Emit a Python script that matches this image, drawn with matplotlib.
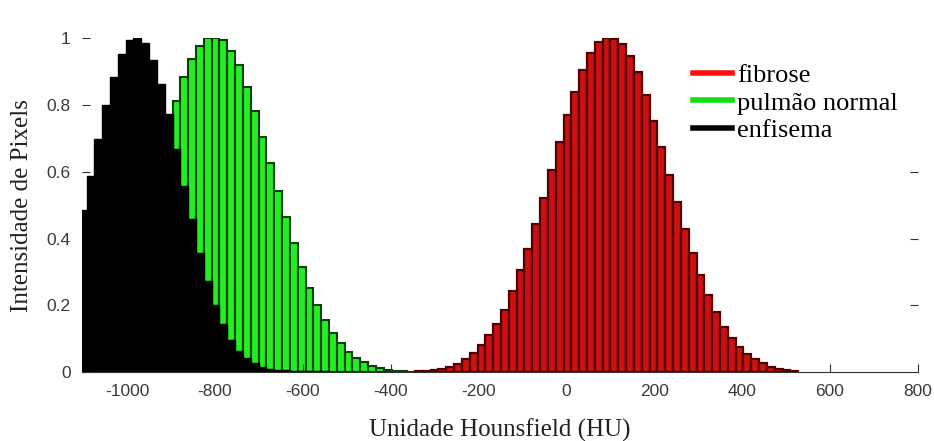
import numpy as np
import matplotlib
matplotlib.use("Agg")
import matplotlib.pyplot as plt
from matplotlib.lines import Line2D

# ── Histogram bins (shared by the three series) ───────────────────────────────
BIN_START = -1109.8   # left edge of bin 0 (HU)
BIN_W     = 17.8      # bin width (HU)

# ── Data (normalised pixel intensity per bin) ────────────────────────────────
black_first_bin = 0    # enfisema
black_heights = [0.485, 0.588, 0.699, 0.800, 0.886, 0.955, 0.995, 1.000, 0.987,
                 0.935, 0.864, 0.774, 0.669, 0.558, 0.458, 0.357, 0.272, 0.202,
                 0.145, 0.096, 0.064, 0.041, 0.026, 0.016, 0.010, 0.007, 0.005,
                 0.004, 0.003, 0.002, 0.002, 0.002, 0.001, 0.001, 0.001, 0.001,
                 0.001, 0.001, 0.001]

green_first_bin = 0    # pulmão normal (left part hidden behind black)
green_heights = [0.03, 0.05, 0.07, 0.10, 0.14, 0.19, 0.26, 0.34, 0.43, 0.52,
                 0.62, 0.72, 0.812, 0.885, 0.940, 0.977, 1.000, 1.000, 0.995,
                 0.963, 0.920, 0.855, 0.784, 0.706, 0.626, 0.543, 0.465, 0.388,
                 0.314, 0.252, 0.200, 0.157, 0.117, 0.086, 0.061, 0.043, 0.029,
                 0.019, 0.011, 0.007, 0.004, 0.002, 0.001]

red_first_bin = 43     # fibrose
red_heights = [0.002, 0.003, 0.005, 0.008, 0.014, 0.024, 0.038, 0.058, 0.081,
               0.111, 0.145, 0.187, 0.242, 0.305, 0.370, 0.443, 0.523, 0.606,
               0.690, 0.770, 0.840, 0.905, 0.958, 0.990, 1.000, 0.998, 0.985,
               0.948, 0.900, 0.830, 0.754, 0.674, 0.591, 0.510, 0.430, 0.357,
               0.290, 0.230, 0.179, 0.136, 0.101, 0.074, 0.054, 0.038, 0.026,
               0.016, 0.010, 0.006, 0.003]

legend_labels = ["fibrose", "pulmão normal", "enfisema"]
x_ticks = [-1000, -800, -600, -400, -200, 0, 200, 400, 600, 800]
y_ticks = [0, 0.2, 0.4, 0.6, 0.8, 1]
y_ticklabels = ["0", "0.2", "0.4", "0.6", "0.8", "1"]


def bin_centers(first, n):
    return BIN_START + (first + np.arange(n)) * BIN_W + BIN_W / 2


plt.rcParams["axes.unicode_minus"] = False
SERIF = ["Liberation Serif", "DejaVu Serif"]
SANS = ["Liberation Sans", "DejaVu Sans"]

fig = plt.figure(figsize=(9.34, 4.41), dpi=100)
ax = fig.add_axes([0.0875, 0.1565, 0.8951, 0.7562])

ax.bar(bin_centers(green_first_bin, len(green_heights)), green_heights,
       width=BIN_W, color="#22ee22", edgecolor="#0a400a", linewidth=1.5,
       zorder=1)
ax.bar(bin_centers(black_first_bin, len(black_heights)), black_heights,
       width=BIN_W, color="black", edgecolor="black", linewidth=1.0, zorder=2)
ax.bar(bin_centers(red_first_bin, len(red_heights)), red_heights,
       width=BIN_W, color="#cc1111", edgecolor="#520000", linewidth=1.6,
       zorder=3)

ax.set_xlim(-1103, 800)
ax.set_ylim(0, 1)
ax.set_xticks(x_ticks)
ax.set_yticks(y_ticks)
ax.set_yticklabels(y_ticklabels)

for s in ("top", "left", "right"):
    ax.spines[s].set_visible(False)
ax.spines["bottom"].set_color("#333333")
ax.spines["bottom"].set_zorder(5)

ax.tick_params(axis="x", direction="in", length=6, pad=9, colors="#333333",
               labelsize=12.5)
ax.tick_params(axis="y", direction="in", length=6, pad=8, colors="#333333",
               labelsize=12.5)
for lab in ax.get_xticklabels() + ax.get_yticklabels():
    lab.set_family(SANS)
    lab.set_color("#3a3a3a")

# right-hand ticks visible only below the legend box
sec = ax.secondary_yaxis("right")
sec.set_yticks([0.2, 0.4, 0.6])
sec.set_yticklabels([])
sec.tick_params(direction="in", length=6, colors="#333333")
sec.spines["right"].set_visible(False)

ax.set_xlabel("Unidade Hounsfield (HU)", family=SERIF, fontsize=18,
              color="#222222", labelpad=14)
ax.set_ylabel("Intensidade de Pixels", family=SERIF, fontsize=18,
              color="#222222", labelpad=10)

handles = [Line2D([], [], color=c, lw=4) for c in ("#ff1010", "#10e010", "black")]
ax.legend(handles, legend_labels, loc="upper left",
          bbox_to_anchor=(0.7157, 0.965), frameon=False, borderpad=0,
          handlelength=1.45, handletextpad=0.2, labelspacing=0.16,
          prop={"family": SERIF, "size": 19})

fig.savefig("out.png", dpi=100)
